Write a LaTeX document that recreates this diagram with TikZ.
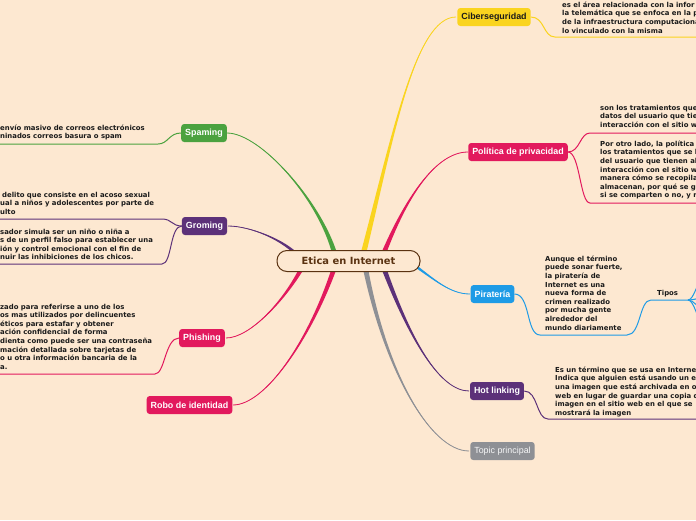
\documentclass[tikz,border=0pt]{standalone}
\usepackage{fontspec}
\setmainfont{DejaVu Sans}
\newfontfamily\labfont{Liberation Sans}
\usetikzlibrary{calc}
\definecolor{bg}{HTML}{FDE8D1}
\definecolor{cyel}{HTML}{FAD41F}
\definecolor{cmag}{HTML}{E2195D}
\definecolor{cpur}{HTML}{5C3179}
\definecolor{cgrn}{HTML}{4BA23F}
\definecolor{cblu}{HTML}{1E9BE6}
\definecolor{cgry}{HTML}{8E9095}
\definecolor{cbrn}{HTML}{5A3211}
\definecolor{ctxt}{HTML}{1A1A1A}
\newcommand\taper[6]{%
  \fill[#1] ($(#2)-(#6)$) .. controls ($(#3)-0.4*(#6)$) and (#4) .. (#5)
    .. controls (#4) and ($(#3)+0.4*(#6)$) .. ($(#2)+(#6)$) -- cycle;
  \draw[#1,line width=0.8pt] (#2) .. controls (#3) and (#4) .. (#5);
}
\tikzset{
  topic/.style={rounded corners=3pt,inner xsep=4pt,inner ysep=0pt,minimum height=18pt,
    font=\labfont\bfseries\fontsize{8.9}{10}\selectfont,text=white},
  leaf/.style={anchor=north west,align=left,inner sep=0pt,text=ctxt,
    font=\bfseries\fontsize{6.9}{8.6}\selectfont},
  uline/.style={line width=1pt},
}
\begin{document}
\begin{tikzpicture}[x=1pt,y=-1pt]
\fill[bg] (0,0) rectangle (696,520);
\useasboundingbox (0,0) rectangle (696,520);
\clip (0,0) rectangle (696,520);

% main branches
\taper{cyel}{363,255}{392,140}{415,17}{456,17}{2.8,0}
\taper{cmag}{383,255}{405,200}{435,152}{468,152}{2.6,0}
\taper{cgrn}{335,255}{320,200}{260,133}{227,133}{2.6,0}
\taper{cpur}{300,258}{285,240}{250,226}{228,226}{0,2.4}
\taper{cmag}{303,266}{285,300}{250,338}{226,338}{2.6,0}
\taper{cmag}{335,266}{310,340}{265,405}{233,405}{2.6,0}
\taper{cgry}{365,266}{385,370}{430,451}{469,451}{2.6,0}
\taper{cpur}{383,266}{410,340}{440,391}{469,391}{2.6,0}
\taper{cblu}{410,262}{435,280}{450,294}{470,294}{0,1.9}

% central node
\node[draw=cbrn,line width=1pt,fill=bg,rounded corners=10pt,minimum width=143pt,minimum height=21pt,
  text=cbrn,font=\bfseries\fontsize{9.9}{11}\selectfont] (root) at (348.5,261) {Etica en Internet};

% topic nodes
\node[topic,fill=cyel,text=ctxt] (cib) at (494,17) {Ciberseguridad};
\node[topic,fill=cmag] (pol) at (518,152) {Política de privacidad};
\node[topic,fill=cblu] (pir) at (492.5,294) {Piratería};
\node[topic,fill=cpur] (hot) at (497,391) {Hot linking};
\node[topic,fill=cgry,text=white!92!cgry,font=\labfont\fontsize{8.9}{10}\selectfont] (tp) at (502.5,451) {Topic principal};
\node[topic,fill=cgrn] (spa) at (204,133) {Spaming};
\node[topic,fill=cpur] (gro) at (204.5,226) {Groming};
\node[topic,fill=cmag] (phi) at (202,338) {Phishing};
\node[topic,fill=cmag] (rob) at (189.5,405) {Robo de identidad};

% leaf texts
\node[leaf] (tcib) at (562,1.6) {es el área relacionada con la infor\\la telemática que se enfoca en la p\\de la infraestructura computaciona\\lo vinculado con la misma};
\node[leaf] (tpol1) at (600,104.8) {son los tratamientos que\\datos del usuario que tie\\interacción con el sitio w};
\node[leaf] (tpol2) at (600,140.6) {Por otro lado, la política\\los tratamientos que se l\\del usuario que tienen al\\interacción con el sitio w\\manera cómo se recopila\\almacenan, por qué se g\\si se comparten o no, y r};
\node[leaf] (tpir) at (545,255.6) {Aunque el término\\puede sonar fuerte,\\la piratería de\\Internet es una\\nueva forma de\\crimen realizado\\por mucha gente\\alrededor del\\mundo diariamente};
\node[leaf] (ttip) at (657,289.6) {Tipos};
\node[leaf] (thot) at (555,366.6) {Es un término que se usa en Interne\\Indica que alguien está usando un e\\una imagen que está archivada en o\\web en lugar de guardar una copia d\\imagen en el sitio web en el que se\\mostrará la imagen};
\node[leaf] (tspa) at (0,124.6) {envío masivo de correos electrónicos\\ninados correos basura o spam};
\node[leaf] (tgro1) at (0,191.6) {\hspace*{2pt}delito que consiste en el acoso sexual\\ual a niños y adolescentes por parte de\\ulto};
\node[leaf] (tgro2) at (0,228.6) {sador simula ser un niño o niña a\\s de un perfil falso para establecer una\\ión y control emocional con el fin de\\nuir las inhibiciones de los chicos.};
\node[leaf] (tphi) at (0,303.6) {zado para referirse a uno de los\\os mas utilizados por delincuentes\\éticos para estafar y obtener\\ación confidencial de forma\\dienta como puede ser una contraseña\\mación detallada sobre tarjetas de\\o u otra información bancaria de la\\a.};

% underline coordinates
\coordinate (ecib) at (700,37);
\coordinate (epol1) at (700,133);
\coordinate (epol2) at (700,203);
\coordinate (ehot) at (700,419);
\coordinate (espa) at (-4,144);
\coordinate (egro1) at (-4,219);
\coordinate (egro2) at (-4,264);
\coordinate (ephi) at (-4,374);
\coordinate (tipj) at (688,300);
\coordinate (f1) at (702,278);
\coordinate (f2) at (702,298);
\coordinate (f3) at (702,310);
\coordinate (f4) at (702,324);

\draw[uline,cyel] (cib.east) .. controls +(14,0) and +(-12,0) .. (555,37) -- (ecib);
\draw[uline,cmag] (pol.east) .. controls +(12,0) and +(-10,0) .. (590,133) -- (epol1);
\draw[uline,cmag] (pol.east) .. controls +(12,0) and +(-10,0) .. (590,203) -- (epol2);
\draw[uline,cblu] (pir.east) .. controls +(16,0) and +(-14,0) .. (540,335) -- (627,335)
   .. controls +(14,0) and +(-12,0) .. (651,300) -- (tipj);
\draw[uline,cblu] (tipj) .. controls +(6,0) and +(-4,2) .. (f1);
\draw[uline,cblu] (tipj) .. controls +(6,0) and +(-4,0) .. (f2);
\draw[uline,cblu] (tipj) .. controls +(6,0) and +(-4,-2) .. (f3);
\draw[uline,cblu] (tipj) .. controls +(6,0) and +(-4,-3) .. (f4);
\draw[uline,cpur] (hot.east) .. controls +(14,0) and +(-12,0) .. (548,419) -- (ehot);
\draw[uline,cgrn] (spa.west) .. controls +(-12,0) and +(10,0) .. (158,144) -- (espa);
\draw[uline,cpur] (gro.west) .. controls +(-10,0) and +(10,0) .. (162,219) -- (egro1);
\draw[uline,cpur] (gro.west) .. controls +(-12,0) and +(10,0) .. (162,264) -- (egro2);
\draw[uline,cmag] (phi.west) .. controls +(-14,0) and +(10,0) .. (155,374) -- (ephi);
\end{tikzpicture}
\end{document}
